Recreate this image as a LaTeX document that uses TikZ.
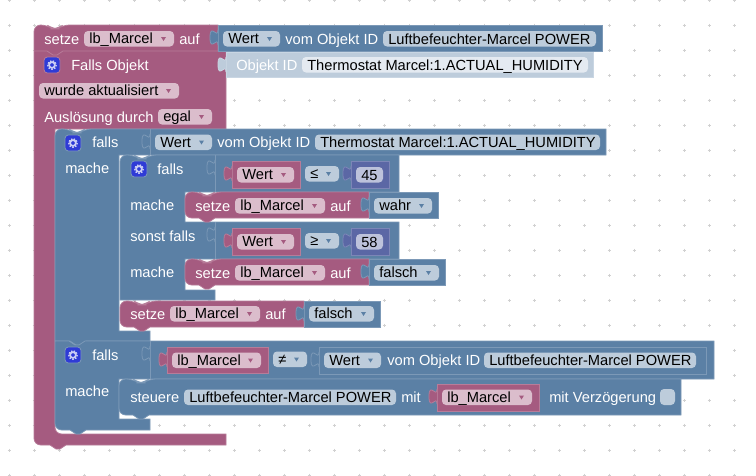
\documentclass[tikz,border=0pt]{standalone}
\usepackage{fontspec}
\setmainfont{Liberation Sans}
\definecolor{purpleblk}{HTML}{A55B80}
\definecolor{purpleedge}{HTML}{B77C99}
\definecolor{purplefld}{HTML}{DBBDCC}
\definecolor{blueblk}{HTML}{5B80A5}
\definecolor{blueedge}{HTML}{7C99B7}
\definecolor{bluefld}{HTML}{BDCCDB}
\definecolor{paleedge}{HTML}{C9D6E3}
\definecolor{palefld}{HTML}{E4EAF1}
\definecolor{indigoblk}{HTML}{5B67A5}
\definecolor{indigoedge}{HTML}{7C86B7}
\definecolor{indigofld}{HTML}{BDC2DB}
\definecolor{iconblue}{HTML}{2F3BD6}
\tikzset{
  purpleblock/.style={fill=purpleblk,draw=purpleedge,line width=0.6pt},
  blueblock/.style={fill=blueblk,draw=blueedge,line width=0.6pt},
  paleblock/.style={fill=bluefld,draw=paleedge,line width=0.6pt},
  indigoblock/.style={fill=indigoblk,draw=indigoedge,line width=0.6pt},
  purplefield/.style={fill=purplefld,rounded corners=3pt},
  bluefield/.style={fill=bluefld,rounded corners=3pt},
  palefield/.style={fill=palefld,rounded corners=3pt},
  indigofield/.style={fill=indigofld,rounded corners=3pt},
  purplearrow/.style={fill=purpleblk},
  bluearrow/.style={fill=blueblk},
  blocktext/.style={anchor=base west,inner sep=0pt,text=white,font=\fontsize{11}{13}\selectfont},
  fieldtext/.style={anchor=base west,inner sep=0pt,text=black,font=\fontsize{11}{13}\selectfont},
  griddot/.style={draw=black!18,line width=0.6pt},
  notchtop/.style={insert path={-- ++(6,4) -- ++(4,0) -- ++(6,-4)}},
  notchbottom/.style={insert path={-- ++(-6,4) -- ++(-4,0) -- ++(-6,-4)}},
}
% tab on the left side of a value block
\newcommand{\plugtab}[3]{\filldraw [#1] (#2,#3) .. controls (#2,#3+10) and (#2-8,#3-8) .. (#2-8,#3+7.5) .. controls (#2-8,#3+23) and (#2,#3+5) .. (#2,#3+15);}
% dropdown: name, colour, x1, x2, top, text
\newcommand{\ddfield}[6]{\fill [#2field] (#3,#5) rectangle (#4,#5+15.5);
\fill [#2arrow] (#4-13,#5+6) -- (#4-8,#5+6) -- (#4-10.5,#5+10) -- cycle;
\draw (#3+5,#5+12.8) node (#1) [fieldtext] {#6};}
% gear button
\newcommand{\gearicon}[3]{\filldraw [fill=iconblue,draw=#1,line width=0.6pt,rounded corners=2.5pt] (#2,#3) rectangle (#2+16,#3+16);
\draw [draw=white!75!iconblue,line width=1.3pt] (#2+8,#3+8) circle (2.9);
\draw [draw=white!75!iconblue,line width=1pt,dash pattern={on 1.1pt off 1.1pt}] (#2+8,#3+8) circle (4.3);}

\begin{document}
\begin{tikzpicture}[x=0.75pt,y=0.75pt,yscale=-1,xscale=1]
\useasboundingbox (0,0) rectangle (756,475);
\fill [white] (0,0) rectangle (756,475);

%Workspace dots
\foreach \px in {9,34,...,734} {
  \foreach \py in {0,25,...,475} {
    \draw [griddot] (\px-1.5,\py) -- (\px+1.5,\py) (\px,\py-1.5) -- (\px,\py+1.5);
  }
}

%Shape: outer trigger block
\draw [purpleblock] (34,40) [rounded corners=5pt] -- (34,25) -- (47,25) [notchtop] [sharp corners] -- (218,25) -- (218,51) -- (226,51) -- (226,129) -- (55,129) -- (55,430) [rounded corners=5pt] -- (55,434) [sharp corners] -- (226,434) -- (226,445) -- (66,445) [notchbottom] [rounded corners=5pt] -- (34,445) -- cycle;
\draw [draw=purpleedge,line width=0.6pt] (34,51) -- (47,51) [notchtop] -- (218,51);

%Shape: first value and object id
\filldraw [blueblock] (218,25) rectangle (602,51);
\plugtab{blueblock}{218}{30}
\filldraw [paleblock] (226,52) rectangle (593,77);
\plugtab{paleblock}{226}{57}

%Shape: first if
\draw [blueblock] (55,140) [rounded corners=5pt] -- (55,129) -- (69,129) [notchtop] [sharp corners] -- (606,129) -- (606,155) -- (119,155) -- (119,331) -- (150,331) -- (150,341) -- (86,341) [notchbottom] -- (55,341) -- cycle;
\draw [draw=blueedge,line width=0.6pt] (150,129) -- (150,155);
\plugtab{blueblock}{150}{134}

%Shape: second if
\draw [blueblock] (55,341) -- (69,341) [notchtop] -- (714,341) -- (714,379) -- (119,379) -- (119,419) -- (150,419) -- (150,430) -- (86,430) [notchbottom] [rounded corners=5pt] -- (55,430) [sharp corners] -- cycle;
\draw [draw=blueedge,line width=0.6pt] (150,341) -- (150,379);
\plugtab{blueblock}{150}{346}

%Shape: inner if
\draw [blueblock] (120,170) [rounded corners=5pt] -- (120,155) -- (134,155) [notchtop] [sharp corners] -- (399,155) -- (399,192) -- (185,192) -- (185,222) -- (399,222) -- (399,259) -- (185,259) -- (185,290) -- (215,290) -- (215,300) -- (120,300) -- cycle;
\draw [draw=blueedge,line width=0.6pt] (215,155) -- (215,192) (215,222) -- (215,259);
\plugtab{blueblock}{215}{160}
\plugtab{blueblock}{215}{227}

%Shape: setze in first branch
\draw [purpleblock] (185,205) [rounded corners=5pt] -- (185,192) -- (199,192) [notchtop] [sharp corners] -- (369,192) -- (369,218) -- (215,218) [notchbottom] [rounded corners=5pt] -- (185,218) -- cycle;
\filldraw [blueblock] (369,192) rectangle (438,218);
\plugtab{blueblock}{369}{197}

%Shape: setze in second branch
\draw [purpleblock] (185,272) [rounded corners=5pt] -- (185,259) -- (199,259) [notchtop] [sharp corners] -- (369,259) -- (369,285) -- (215,285) [notchbottom] [rounded corners=5pt] -- (185,285) -- cycle;
\filldraw [blueblock] (369,259) rectangle (445,285);
\plugtab{blueblock}{369}{264}

%Shape: setze after inner if
\draw [purpleblock] (120,314) [rounded corners=5pt] -- (120,301) -- (134,301) [notchtop] [sharp corners] -- (304,301) -- (304,327) -- (150,327) [notchbottom] [rounded corners=5pt] -- (120,327) -- cycle;
\filldraw [blueblock] (304,301) rectangle (380,327);
\plugtab{blueblock}{304}{306}

%Shape: steuere
\draw [blueblock] (119,392) [rounded corners=5pt] -- (119,379) -- (133,379) [notchtop] [sharp corners] -- (681,379) -- (681,415) -- (149,415) [notchbottom] [rounded corners=5pt] -- (119,415) -- cycle;

%Shape: compare blocks
\filldraw [purpleblock] (232,161) rectangle (300,188);
\plugtab{purpleblock}{232}{166}
\filldraw [indigoblock] (351,161) rectangle (389,188);
\plugtab{indigoblock}{351}{166}
\filldraw [purpleblock] (232,228) rectangle (300,255);
\plugtab{purpleblock}{232}{233}
\filldraw [indigoblock] (351,228) rectangle (389,255);
\plugtab{indigoblock}{351}{233}
\filldraw [purpleblock] (167,347) rectangle (268,373);
\plugtab{purpleblock}{167}{352}
\filldraw [blueblock] (319,347) rectangle (706,374);
\plugtab{blueblock}{319}{352}
\filldraw [purpleblock] (437,384) rectangle (539,411);
\plugtab{purpleblock}{437}{389}

%Gear buttons
\gearicon{purpleedge}{44}{57}
\gearicon{blueedge}{65}{135}
\gearicon{blueedge}{131}{161}
\gearicon{blueedge}{65}{347}

% Text Node
\draw (44,44) node (setzeTop) [blocktext] {setze};
\ddfield{varTop}{purple}{84}{174}{31}{lb\_Marcel}
\draw (179,44) node (aufTop) [blocktext] {auf};
\ddfield{wertTop}{blue}{223}{280}{31}{Wert}
\draw (285,44) node (vomTop) [blocktext] {vom Objekt ID};
\fill [bluefield] (383,31) rectangle (596,46.5);
\draw (388,44) node (idTop) [fieldtext] {Luftbefeuchter-Marcel POWER};
% Text Node
\draw (71,70) node (fallsObjekt) [blocktext] {Falls Objekt};
\draw (236,70) node (objektId) [blocktext] {Objekt ID};
\fill [palefield] (302,57) rectangle (588,72.5);
\draw (307,70) node (idTrigger) [fieldtext] {Thermostat Marcel:1.ACTUAL\_HUMIDITY};
\ddfield{wurdeField}{purple}{39}{179}{83}{wurde aktualisiert}
\draw (44,122) node (ausloesung) [blocktext] {Auslösung durch};
\ddfield{egalField}{purple}{158}{212}{109}{egal}
% Text Node
\draw (92,147.5) node (fallsOuter) [blocktext] {falls};
\ddfield{wertOuter}{blue}{155}{212}{134.5}{Wert}
\draw (217,147.5) node (vomOuter) [blocktext] {vom Objekt ID};
\fill [bluefield] (315,134.5) rectangle (600,150);
\draw (320,147.5) node (idOuter) [fieldtext] {Thermostat Marcel:1.ACTUAL\_HUMIDITY};
\draw (65,173) node (macheOuter) [blocktext] {mache};
% Text Node
\draw (157,174) node (fallsInner) [blocktext] {falls};
\ddfield{wertLow}{purple}{237}{294}{167}{Wert}
\ddfield{opLow}{blue}{305}{339}{166}{≤}
\fill [indigofield] (356,167) rectangle (383,182.5);
\draw (361,180) node (numLow) [fieldtext] {45};
\draw (130,210) node (macheLow) [blocktext] {mache};
\draw (195,211) node (setzeLow) [blocktext] {setze};
\ddfield{varLow}{purple}{235}{325}{198}{lb\_Marcel}
\draw (330,211) node (aufLow) [blocktext] {auf};
\ddfield{wahrField}{blue}{374}{432}{198}{wahr}
% Text Node
\draw (130,241) node (sonstFalls) [blocktext] {sonst falls};
\ddfield{wertHigh}{purple}{237}{294}{234}{Wert}
\ddfield{opHigh}{blue}{305}{339}{233}{≥}
\fill [indigofield] (356,234) rectangle (383,249.5);
\draw (361,247) node (numHigh) [fieldtext] {58};
\draw (130,277) node (macheHigh) [blocktext] {mache};
\draw (195,278) node (setzeHigh) [blocktext] {setze};
\ddfield{varHigh}{purple}{235}{325}{265}{lb\_Marcel}
\draw (330,278) node (aufHigh) [blocktext] {auf};
\ddfield{falschHigh}{blue}{374}{439}{265}{falsch}
% Text Node
\draw (130,319) node (setzeOff) [blocktext] {setze};
\ddfield{varOff}{purple}{170}{260}{306}{lb\_Marcel}
\draw (265,319) node (aufOff) [blocktext] {auf};
\ddfield{falschOff}{blue}{309}{374}{306}{falsch}
% Text Node
\draw (92,360) node (fallsSecond) [blocktext] {falls};
\ddfield{varSecond}{purple}{172}{261}{352.5}{lb\_Marcel}
\ddfield{opSecond}{blue}{273}{307}{351.5}{≠}
\ddfield{wertSecond}{blue}{324}{381}{352.5}{Wert}
\draw (387,365.5) node (vomSecond) [blocktext] {vom Objekt ID};
\fill [bluefield] (484,352.5) rectangle (696,368);
\draw (489,365.5) node (idSecond) [fieldtext] {Luftbefeuchter-Marcel POWER};
\draw (65,396) node (macheSecond) [blocktext] {mache};
% Text Node
\draw (130,402) node (steuere) [blocktext] {steuere};
\fill [bluefield] (184,389.5) rectangle (396,405);
\draw (189,402) node (idSteuere) [fieldtext] {Luftbefeuchter-Marcel POWER};
\draw (401,402) node (mitText) [blocktext] {mit};
\ddfield{varSteuere}{purple}{442}{532}{389.5}{lb\_Marcel}
\draw (549,402) node (verzoegerung) [blocktext] {mit Verzögerung};
\fill [bluefield] (660,389) rectangle (675,405);

\end{tikzpicture}
\end{document}
